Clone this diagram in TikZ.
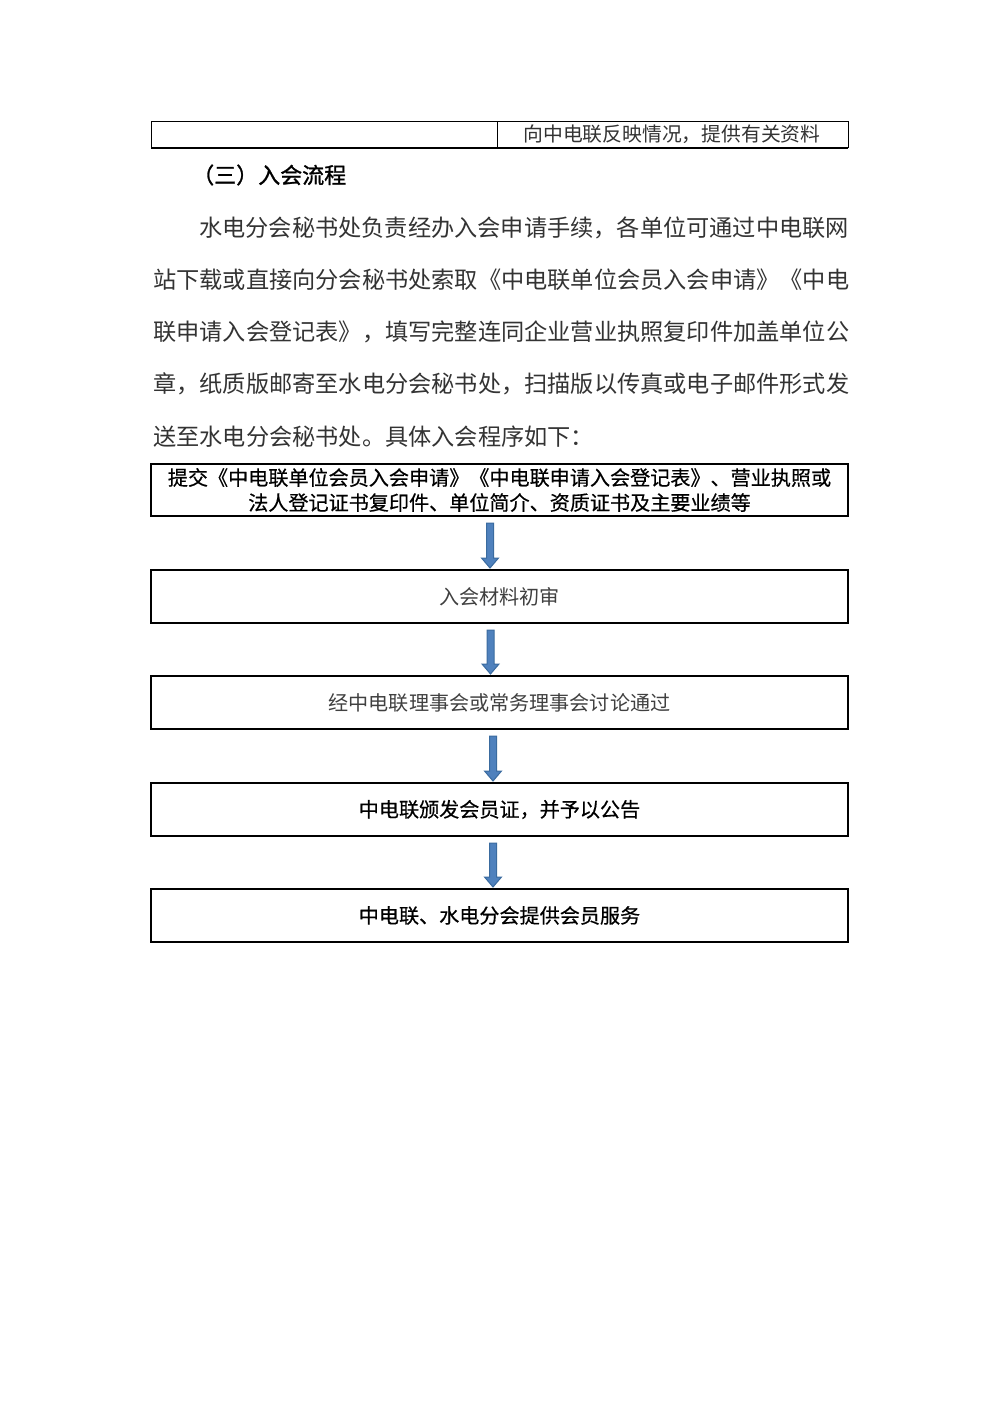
\documentclass[tikz,border=0pt]{standalone}
\usepackage{fontspec}
\setmainfont{Noto Sans CJK SC}
\newfontfamily\boxfont[FakeBold=0.5]{Noto Sans CJK SC}
\newfontfamily\headfont[FakeBold=1.2]{Noto Sans CJK SC}
\usetikzlibrary{calc}
\definecolor{arrowfill}{HTML}{4F81BD}
\definecolor{arrowline}{HTML}{3A6B9F}
\newcommand\flowarrow[3]{%
  \filldraw[bluearrow] let \p1=($(#1 |- #2.south)+(0,7)$), \p2=($(#1 |- #3.north)+(0,-2)$) in
    (\x1-3.5pt,\y1) -- (\x1+3.5pt,\y1) -- (\x1+3.5pt,\y2+10pt) -- (\x1+8.5pt,\y2+10pt)
    -- (\x1,\y2) -- (\x1-8.5pt,\y2+10pt) -- (\x1-3.5pt,\y2+10pt) -- cycle;}
\begin{document}
\begin{tikzpicture}[x=1pt,y=-1pt,
  box/.style={draw, line width=1.3pt, minimum width=697pt, minimum height=53pt,
    inner sep=0pt, outer sep=0pt, align=center, font=\boxfont\fontsize{20.1pt}{25pt}\selectfont},
  lightbox/.style={box, text=black!75, font=\normalfont\fontsize{20.1pt}{25pt}\selectfont},
  para/.style={anchor=west, inner sep=0pt, text=black!80, font=\fontsize{23.2pt}{23.2pt}\selectfont},
  bluearrow/.style={draw=arrowline, fill=arrowfill, line width=1pt, line join=miter},
  rule/.style={line width=1pt}]
\fill[white] (0,0) rectangle (1000,1414);
\useasboundingbox (0,0) rectangle (1000,1414);
% table fragment
\coordinate (tl) at (151,121); \coordinate (tr) at (848,121);
\coordinate (bl) at (151,148); \coordinate (br) at (848,148);
\coordinate (dt) at (497,121); \coordinate (db) at (497,148);
\draw[rule] (tl) -- (tr);
\draw[rule] (tl) -- (bl);
\draw[rule] (tr) -- (br);
\draw[rule] (dt) -- (db);
\draw[line width=2pt] (bl) -- (br);
\node[inner sep=0pt, text=black!80, font=\fontsize{19.8pt}{19.8pt}\selectfont] (tabtext) at (672,134) {向中电联反映情况，提供有关资料};
% heading
\node[anchor=west, inner sep=0pt, font=\headfont\fontsize{22pt}{22pt}\selectfont] (head) at (192,175) {（三）入会流程};
% paragraph
\node[para] (p1) at (199,228) {水电分会秘书处负责经办入会申请手续，各单位可通过中电联网};
\node[para] (p2) at (153,280) {站下载或直接向分会秘书处索取《中电联单位会员入会申请》《中电};
\node[para] (p3) at (153,332) {联申请入会登记表》，填写完整连同企业营业执照复印件加盖单位公};
\node[para] (p4) at (153,384) {章，纸质版邮寄至水电分会秘书处，扫描版以传真或电子邮件形式发};
\node[para] (p5) at (153,437) {送至水电分会秘书处。具体入会程序如下：};
% flow boxes
\node[box, minimum height=52pt] (b1) at (499.5,490) {提交《中电联单位会员入会申请》《中电联申请入会登记表》、营业执照或\\法人登记证书复印件、单位简介、资质证书及主要业绩等};
\node[lightbox] (b2) at (499.5,596.5) {入会材料初审};
\node[lightbox] (b3) at (499.5,702.5) {经中电联理事会或常务理事会讨论通过};
\node[box] (b4) at (499.5,809.5) {中电联颁发会员证，并予以公告};
\node[box] (b5) at (499.5,915.5) {中电联、水电分会提供会员服务};
% arrows
\coordinate (ax1) at (490,0);
\coordinate (ax2) at (490.5,0);
\coordinate (ax3) at (493,0);
\coordinate (ax4) at (493,0);
\flowarrow{ax1}{b1}{b2}
\flowarrow{ax2}{b2}{b3}
\flowarrow{ax3}{b3}{b4}
\flowarrow{ax4}{b4}{b5}
\end{tikzpicture}
\end{document}
